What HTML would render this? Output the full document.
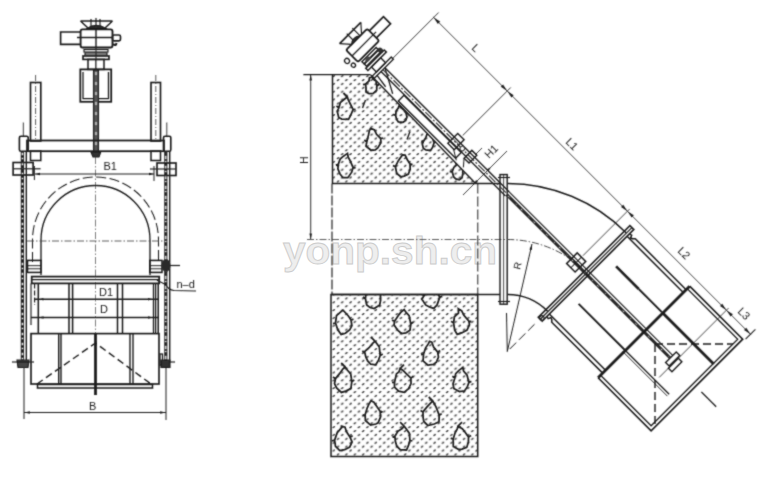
<!DOCTYPE html>
<html><head><meta charset="utf-8"><style>
html,body{margin:0;padding:0;background:#fff;}
svg{display:block;font-family:"Liberation Sans",sans-serif;}
</style></head><body>
<svg width="775" height="479" viewBox="0 0 775 479">
<defs>
<pattern id="hatch" width="8.4" height="7.8" patternUnits="userSpaceOnUse">
<path d="M1.3,2.5 L2.7,1.6 M5.5,6.4 L6.9,5.5" stroke="#333" stroke-width="1.35" stroke-linecap="round"/>
</pattern>
<clipPath id="cUpper"><path d="M332.5,75 L370.7,75 L475.6,183.5 L332.5,183.5 Z"/></clipPath>
<clipPath id="cLower"><rect x="331" y="294.5" width="146.7" height="162"/></clipPath>
<filter id="soft" x="0" y="0" width="775" height="479" filterUnits="userSpaceOnUse"><feConvolveMatrix order="3" kernelMatrix="0.03 0.1 0.03 0.1 0.48 0.1 0.03 0.1 0.03" divisor="1" preserveAlpha="false" edgeMode="none"/></filter>
</defs>
<rect width="775" height="479" fill="#fff"/>
<text x="283" y="263.5" font-size="38" font-weight="bold" fill="#eeeeee" stroke="#cccccc" stroke-width="0.9" textLength="214" lengthAdjust="spacingAndGlyphs" style="font-family:'Liberation Sans',sans-serif">yonp.sh.cn</text>
<g filter="url(#soft)">
<line x1="95.5" y1="60.0" x2="95.5" y2="70.0" stroke="#555" stroke-width="0.77" />
<line x1="95.5" y1="157.0" x2="95.5" y2="333.0" stroke="#555" stroke-width="0.77" stroke-dasharray="7,2,1.5,2" />
<path d="M80.5,21 L112.5,21 M80.5,21 L88,28 M112.5,21 L105,28" stroke="#1c1c1c" stroke-width="1.53" fill="none" />
<path d="M91,19 L91,27 M96,18 L96,27 M100,19 L100,27" stroke="#1c1c1c" stroke-width="1.18" fill="none" />
<path d="M87,28.5 Q96,22 106,28.5 Z" stroke="#1c1c1c" stroke-width="1.18" fill="#2a2a2a" />
<rect x="80.6" y="29.4" width="31.9" height="18.1" stroke="#1c1c1c" stroke-width="1.89" fill="none" rx="2" />
<line x1="77.0" y1="37.5" x2="112.5" y2="37.5" stroke="#1c1c1c" stroke-width="1.42" />
<line x1="96.0" y1="29.4" x2="96.0" y2="47.5" stroke="#1c1c1c" stroke-width="1.42" />
<path d="M80.6,32 L60.6,32 L60.6,44.4 L80.6,44.4" stroke="#1c1c1c" stroke-width="1.65" fill="none" />
<rect x="112.5" y="35.0" width="8.0" height="5.8" stroke="#1c1c1c" stroke-width="1.65" fill="none" rx="1.5" />
<path d="M113,44 q3,2.5 3.5,-1" stroke="#1c1c1c" stroke-width="2.12" fill="none" />
<rect x="84.0" y="49.5" width="24.0" height="2.5" stroke="#1c1c1c" stroke-width="1.18" fill="none" rx="0" />
<rect x="85.0" y="53.0" width="22.0" height="2.0" stroke="#1c1c1c" stroke-width="1.18" fill="none" rx="0" />
<rect x="83.0" y="56.0" width="26.0" height="3.4" stroke="#1c1c1c" stroke-width="1.65" fill="none" rx="0" />
<rect x="88.0" y="59.4" width="16.0" height="10.0" stroke="#1c1c1c" stroke-width="1.53" fill="none" rx="0" />
<line x1="96.0" y1="47.5" x2="96.0" y2="69.4" stroke="#1c1c1c" stroke-width="0.99" />
<rect x="80.3" y="69.4" width="30.9" height="32.4" stroke="#1c1c1c" stroke-width="1.77" fill="none" rx="0" />
<path d="M83,72 L83,98.6 L108.5,98.6 L108.5,72" stroke="#1c1c1c" stroke-width="1.3" fill="none" />
<rect x="93.6" y="70.0" width="4.8" height="83.0" stroke="#1c1c1c" stroke-width="1.3" fill="#555" rx="0" />
<line x1="96.0" y1="72.0" x2="96.0" y2="150.0" stroke="#ccc" stroke-width="1.42" stroke-dasharray="3,7" />
<path d="M91,152 L100.7,152 L99,157 L93,157 Z" stroke="#1c1c1c" stroke-width="1.18" fill="#333" />
<rect x="30.5" y="82.5" width="10.3" height="58.5" stroke="#1c1c1c" stroke-width="1.65" fill="none" rx="0" />
<line x1="35.6" y1="75.0" x2="35.6" y2="141.0" stroke="#444" stroke-width="0.88" stroke-dasharray="6,2,1,2" />
<rect x="30.5" y="151.0" width="10.3" height="9.5" stroke="#1c1c1c" stroke-width="1.53" fill="none" rx="0" />
<rect x="151.0" y="82.5" width="9.5" height="58.5" stroke="#1c1c1c" stroke-width="1.65" fill="none" rx="0" />
<line x1="155.8" y1="75.0" x2="155.8" y2="141.0" stroke="#444" stroke-width="0.88" stroke-dasharray="6,2,1,2" />
<rect x="151.0" y="151.0" width="9.5" height="9.5" stroke="#1c1c1c" stroke-width="1.53" fill="none" rx="0" />
<rect x="27.0" y="140.5" width="137.0" height="10.7" stroke="#1c1c1c" stroke-width="1.77" fill="none" rx="0" />
<line x1="23.3" y1="122.5" x2="23.3" y2="136.0" stroke="#1c1c1c" stroke-width="0.88" />
<line x1="166.8" y1="122.5" x2="166.8" y2="136.0" stroke="#1c1c1c" stroke-width="0.88" />
<rect x="19.4" y="136.2" width="8.8" height="15.0" stroke="#1c1c1c" stroke-width="1.65" fill="none" rx="1.5" />
<rect x="163.5" y="136.2" width="7.3" height="15.0" stroke="#1c1c1c" stroke-width="1.65" fill="none" rx="1.5" />
<line x1="22.4" y1="151" x2="22.4" y2="361" stroke="#262626" stroke-width="3.3"/>
<line x1="22.4" y1="153" x2="22.4" y2="361" stroke="#ddd" stroke-width="1.3" stroke-dasharray="2,3,1,4"/>
<line x1="26.3" y1="151.0" x2="26.3" y2="361.0" stroke="#1c1c1c" stroke-width="1.42" />
<line x1="165.8" y1="151" x2="165.8" y2="361" stroke="#262626" stroke-width="3.3"/>
<line x1="165.8" y1="156" x2="165.8" y2="361" stroke="#ddd" stroke-width="1.3" stroke-dasharray="3,2,1,4"/>
<line x1="169.7" y1="151.0" x2="169.7" y2="361.0" stroke="#1c1c1c" stroke-width="1.42" />
<rect x="13.1" y="162.5" width="20.0" height="12.5" stroke="#1c1c1c" stroke-width="1.65" fill="none" rx="0" />
<line x1="13.1" y1="168.8" x2="40.6" y2="168.8" stroke="#1c1c1c" stroke-width="1.18" />
<rect x="157.0" y="163.0" width="19.0" height="12.5" stroke="#1c1c1c" stroke-width="1.65" fill="none" rx="0" />
<line x1="150.0" y1="169.0" x2="176.0" y2="169.0" stroke="#1c1c1c" stroke-width="1.18" />
<line x1="34.4" y1="166.0" x2="34.4" y2="180.0" stroke="#1c1c1c" stroke-width="0.99" />
<line x1="154.0" y1="166.0" x2="154.0" y2="181.0" stroke="#1c1c1c" stroke-width="0.99" />
<line x1="35.0" y1="174.0" x2="154.0" y2="174.0" stroke="#1c1c1c" stroke-width="0.99" />
<path d="M35.0,174.0 L40.0,172.7 L40.0,175.3Z" fill="#1c1c1c"/>
<path d="M154.0,174.0 L149.0,175.3 L149.0,172.7Z" fill="#1c1c1c"/>
<text x="103.5" y="170" font-size="11" text-anchor="start" fill="#1c1c1c" >B1</text>
<path d="M32.5,262 L32.5,240 A63,63 0 0 1 158.5,240 L158.5,262" stroke="#1c1c1c" stroke-width="1.04" fill="none" stroke-dasharray="10,3.5" />
<path d="M41,275 L41,240 A54.5,54.5 0 0 1 150,240 L150,275" stroke="#1c1c1c" stroke-width="1.36" fill="none" />
<line x1="27.0" y1="241.0" x2="163.0" y2="241.0" stroke="#444" stroke-width="0.88" stroke-dasharray="7,2,1.5,2" />
<rect x="27.5" y="260.4" width="13.5" height="12.0" stroke="#1c1c1c" stroke-width="1.53" fill="none" rx="0" />
<line x1="27.5" y1="265.7" x2="41.0" y2="265.7" stroke="#1c1c1c" stroke-width="0.99" />
<line x1="27.5" y1="268.8" x2="41.0" y2="268.8" stroke="#1c1c1c" stroke-width="0.99" />
<rect x="149.8" y="260.4" width="12.2" height="12.0" stroke="#1c1c1c" stroke-width="1.53" fill="none" rx="0" />
<line x1="149.8" y1="265.7" x2="162.0" y2="265.7" stroke="#1c1c1c" stroke-width="0.99" />
<line x1="149.8" y1="268.8" x2="162.0" y2="268.8" stroke="#1c1c1c" stroke-width="0.99" />
<ellipse cx="166" cy="265.5" rx="4.5" ry="6.5" fill="#2a2a2a"/>
<line x1="170.0" y1="265.5" x2="180.0" y2="265.5" stroke="#1c1c1c" stroke-width="1.18" />
<rect x="31.7" y="276.6" width="127.5" height="6.8" stroke="#1c1c1c" stroke-width="1.77" fill="none" rx="0" />
<line x1="31.7" y1="279.7" x2="159.2" y2="279.7" stroke="#1c1c1c" stroke-width="1.18" />
<line x1="31.0" y1="283.4" x2="31.0" y2="325.0" stroke="#1c1c1c" stroke-width="1.18" />
<line x1="34.6" y1="283.4" x2="34.6" y2="305.0" stroke="#1c1c1c" stroke-width="1.18" stroke-dasharray="5,2" />
<line x1="38.3" y1="283.4" x2="38.3" y2="333.6" stroke="#1c1c1c" stroke-width="1.53" />
<line x1="153.5" y1="283.4" x2="153.5" y2="333.6" stroke="#1c1c1c" stroke-width="1.3" />
<line x1="155.6" y1="283.4" x2="155.6" y2="333.6" stroke="#1c1c1c" stroke-width="1.3" />
<line x1="158.2" y1="283.4" x2="158.2" y2="333.6" stroke="#1c1c1c" stroke-width="1.53" />
<line x1="69.0" y1="283.4" x2="69.0" y2="333.6" stroke="#1c1c1c" stroke-width="1.53" />
<line x1="72.6" y1="283.4" x2="72.6" y2="333.6" stroke="#1c1c1c" stroke-width="1.53" />
<line x1="117.5" y1="283.4" x2="117.5" y2="333.6" stroke="#1c1c1c" stroke-width="1.53" />
<line x1="122.5" y1="283.4" x2="122.5" y2="333.6" stroke="#1c1c1c" stroke-width="1.53" />
<line x1="34.6" y1="299.2" x2="158.2" y2="299.2" stroke="#1c1c1c" stroke-width="1.53" />
<line x1="31.0" y1="317.5" x2="158.2" y2="317.5" stroke="#1c1c1c" stroke-width="1.53" />
<path d="M39.0,299.2 L43.5,297.9 L43.5,300.5Z" fill="#1c1c1c"/>
<path d="M39.0,317.5 L43.5,316.2 L43.5,318.8Z" fill="#1c1c1c"/>
<path d="M152.5,299.2 L148.0,300.5 L148.0,297.9Z" fill="#1c1c1c"/>
<path d="M152.5,317.5 L148.0,318.8 L148.0,316.2Z" fill="#1c1c1c"/>
<text x="99" y="296" font-size="11" text-anchor="start" fill="#1c1c1c" >D1</text>
<text x="100" y="313" font-size="11" text-anchor="start" fill="#1c1c1c" >D</text>
<path d="M157,280.3 L165.5,284.4 Q168,289.5 174,290.5 L196,291" stroke="#1c1c1c" stroke-width="1.18" fill="none" />
<text x="176.5" y="288" font-size="11" text-anchor="start" fill="#1c1c1c" >n–d</text>
<rect x="31.0" y="333.6" width="128.0" height="50.4" stroke="#1c1c1c" stroke-width="1.65" fill="none" rx="0" />
<line x1="58.7" y1="333.6" x2="58.7" y2="384.0" stroke="#1c1c1c" stroke-width="1.42" />
<line x1="61.0" y1="333.6" x2="61.0" y2="384.0" stroke="#1c1c1c" stroke-width="1.42" />
<line x1="130.0" y1="333.6" x2="130.0" y2="384.0" stroke="#1c1c1c" stroke-width="1.42" />
<line x1="133.0" y1="333.6" x2="133.0" y2="384.0" stroke="#1c1c1c" stroke-width="1.42" />
<rect x="37.5" y="384.5" width="115.0" height="3.5" stroke="#1c1c1c" stroke-width="1.53" fill="none" rx="0" />
<line x1="95.5" y1="333.6" x2="95.5" y2="395.0" stroke="#1c1c1c" stroke-width="2.83" />
<path d="M37,384 L95.5,343 L151,384" stroke="#1c1c1c" stroke-width="1.42" fill="none" stroke-dasharray="7,4" />
<path d="M17,360 L29,360 L28,367.5 L18,367.5 Z" stroke="#1c1c1c" stroke-width="1.18" fill="#444" />
<line x1="12.0" y1="362.0" x2="34.0" y2="362.0" stroke="#1c1c1c" stroke-width="1.18" />
<rect x="160.0" y="354.0" width="2.5" height="11.0" stroke="#1c1c1c" stroke-width="1.3" fill="none" rx="0" />
<path d="M161,360 L170,360 L170,367.5 L161,367.5 Z" stroke="#1c1c1c" stroke-width="1.18" fill="#333" />
<line x1="170.0" y1="362.0" x2="175.0" y2="362.0" stroke="#1c1c1c" stroke-width="1.18" />
<line x1="24.0" y1="367.0" x2="24.0" y2="419.0" stroke="#1c1c1c" stroke-width="0.99" />
<line x1="166.0" y1="367.0" x2="166.0" y2="420.0" stroke="#1c1c1c" stroke-width="0.99" />
<line x1="24.0" y1="412.5" x2="166.0" y2="412.5" stroke="#1c1c1c" stroke-width="0.99" />
<path d="M24.0,412.5 L30.0,411.2 L30.0,413.8Z" fill="#1c1c1c"/>
<path d="M166.0,412.5 L160.0,413.8 L160.0,411.2Z" fill="#1c1c1c"/>
<text x="89" y="409.5" font-size="11" text-anchor="start" fill="#1c1c1c" >B</text>
<path d="M332.5,75 L370.7,75 L475.6,183.5 L332.5,183.5 Z" fill="url(#hatch)" stroke="none"/>
<rect x="331" y="294.5" width="146.7" height="162" fill="url(#hatch)" stroke="none"/>
<path d="M303.4,74.6 L370.7,74.6" stroke="#1c1c1c" stroke-width="1.18" fill="none" />
<path d="M332.5,74.6 L332.5,183.5" stroke="#1c1c1c" stroke-width="1.53" fill="none" />
<path d="M370.7,75 L475.6,183.5" stroke="#1c1c1c" stroke-width="1.42" fill="none" />
<line x1="332.0" y1="183.5" x2="500.0" y2="183.5" stroke="#1c1c1c" stroke-width="1.42" />
<line x1="331.5" y1="294.5" x2="500.0" y2="294.5" stroke="#1c1c1c" stroke-width="1.42" />
<line x1="332.0" y1="183.5" x2="332.0" y2="294.5" stroke="#1c1c1c" stroke-width="1.18" stroke-dasharray="10,2" />
<line x1="477.8" y1="183.5" x2="477.8" y2="294.5" stroke="#1c1c1c" stroke-width="0.99" stroke-dasharray="10,3" />
<rect x="331.0" y="294.5" width="146.7" height="162.0" stroke="#1c1c1c" stroke-width="1.53" fill="none" rx="0" />
<line x1="310.7" y1="74.6" x2="310.7" y2="239.5" stroke="#1c1c1c" stroke-width="0.88" />
<path d="M310.7,74.6 L312.0,80.6 L309.4,80.6Z" fill="#1c1c1c"/>
<path d="M310.7,239.5 L309.4,233.5 L312.0,233.5Z" fill="#1c1c1c"/>
<text x="307.5" y="160" font-size="10" text-anchor="middle" fill="#1c1c1c" transform="rotate(-90 307.5 160)" >H</text>
<line x1="307.0" y1="239.5" x2="507.0" y2="239.5" stroke="#444" stroke-width="0.88" stroke-dasharray="7,2,1.5,2" />
<rect x="500.0" y="174.6" width="7.2" height="129.6" stroke="#1c1c1c" stroke-width="1.42" fill="none" rx="0" />
<line x1="503.6" y1="174.6" x2="503.6" y2="304.2" stroke="#1c1c1c" stroke-width="0.77" />
<line x1="498.0" y1="177.5" x2="510.0" y2="177.5" stroke="#1c1c1c" stroke-width="1.18" />
<line x1="498.0" y1="301.5" x2="510.0" y2="301.5" stroke="#1c1c1c" stroke-width="1.18" />
<path d="M507.3,183.5 A168,168 0 0 1 626.1,232.7" stroke="#1c1c1c" stroke-width="1.53" fill="none" />
<path d="M507.3,294.5 A57,57 0 0 1 547.6,311.2" stroke="#1c1c1c" stroke-width="1.53" fill="none" />
<path d="M507.3,239.5 A112,112 0 0 1 586.5,272.3" stroke="#444" stroke-width="0.99" fill="none" stroke-dasharray="7,2,1.5,2" />
<line x1="507.3" y1="351.5" x2="532.0" y2="244.0" stroke="#1c1c1c" stroke-width="0.99" />
<path d="M532.0,244.0 L531.9,250.1 L529.4,249.6Z" fill="#1c1c1c"/>
<text x="520" y="270" font-size="10" text-anchor="start" fill="#1c1c1c" transform="rotate(-76 520 270)" >R</text>
<line x1="506.5" y1="313.0" x2="507.3" y2="351.5" stroke="#1c1c1c" stroke-width="0.99" />
<line x1="509.8" y1="349.0" x2="535.6" y2="323.2" stroke="#1c1c1c" stroke-width="0.99" stroke-dasharray="9,4" />
<g transform="translate(585 272) rotate(45)"><rect x="-326" y="-18" width="17" height="30" stroke="#1c1c1c" stroke-width="1.77" fill="none" rx="2"/><line x1="-317.5" y1="-22" x2="-317.5" y2="12" stroke="#1c1c1c" stroke-width="1.18"/><path d="M-323,-18 L-323,-38 L-313,-38 L-313,-18" stroke="#1c1c1c" stroke-width="1.65" fill="none"/><line x1="-335" y1="-18" x2="-335" y2="12" stroke="#1c1c1c" stroke-width="1.53"/><path d="M-335,-18 L-326,-10 M-335,12 L-326,4 M-337,-8 L-326,-8 M-337,0 L-326,0" stroke="#1c1c1c" stroke-width="1.18" fill="none"/><path d="M-326,-8 Q-331,-2 -326,4 Z" stroke="#1c1c1c" stroke-width="1.18" fill="#333"/><ellipse cx="-317.5" cy="19" rx="2.6" ry="2.4" stroke="#1c1c1c" stroke-width="1.3" fill="none"/><ellipse cx="-310" cy="17.5" rx="2.2" ry="2" stroke="#1c1c1c" stroke-width="1.3" fill="none"/><rect x="-306.5" y="-11" width="3.0" height="20" stroke="#1c1c1c" stroke-width="1.42" fill="none" rx="0"/><rect x="-303" y="-11" width="3" height="20" stroke="#1c1c1c" stroke-width="1.42" fill="none" rx="0"/><ellipse cx="-301.5" cy="-12" rx="3" ry="2.5" fill="#333"/><ellipse cx="-304" cy="3" rx="2" ry="3" fill="#444"/><rect x="-299" y="-15" width="3" height="26" stroke="#1c1c1c" stroke-width="1.53" fill="none" rx="0"/><rect x="-296" y="-7" width="7" height="13" stroke="#1c1c1c" stroke-width="1.42" fill="none" rx="0"/><rect x="-289" y="-15" width="3" height="27" stroke="#1c1c1c" stroke-width="1.3" fill="none" rx="0"/><path d="M-286,-3 L-262,10 M-286,8 L-272,10" stroke="#1c1c1c" stroke-width="1.3" fill="none"/><line x1="-286" y1="-3" x2="-110" y2="-3" stroke="#1c1c1c" stroke-width="1.36"/><line x1="-286" y1="2.5" x2="-110" y2="2.5" stroke="#1c1c1c" stroke-width="1.36"/><line x1="-286" y1="-0.2" x2="-110" y2="-0.2" stroke="#333" stroke-width="1.18" stroke-dasharray="9,2,2,2"/><line x1="-110" y1="-3" x2="121" y2="-3" stroke="#1c1c1c" stroke-width="1.18"/><line x1="-110" y1="0.6" x2="121" y2="0.6" stroke="#262626" stroke-width="3.07"/><line x1="-108" y1="0.6" x2="121" y2="0.6" stroke="#bbb" stroke-width="0.88" stroke-dasharray="2,9,1,6"/><rect x="-253" y="3" width="81" height="8" stroke="#1c1c1c" stroke-width="1.42" fill="none" rx="0"/><rect x="-188" y="-8" width="9" height="14" stroke="#1c1c1c" stroke-width="1.42" fill="none" rx="0"/><line x1="-188" y1="-1" x2="-179" y2="-1" stroke="#1c1c1c" stroke-width="0.88"/><rect x="-166" y="-6" width="7" height="11" stroke="#1c1c1c" stroke-width="1.42" fill="none" rx="0"/><circle cx="-174" cy="-0.5" r="2.2" stroke="#1c1c1c" stroke-width="1.1" fill="#fff"/><path d="M-180,6 L-170,12 M-166,5 L-160,12" stroke="#1c1c1c" stroke-width="0.99" fill="none"/><rect x="-19" y="-8" width="12" height="15" stroke="#1c1c1c" stroke-width="1.53" fill="none" rx="0"/><line x1="-19" y1="-0.5" x2="-7" y2="-0.5" stroke="#1c1c1c" stroke-width="0.99"/><line x1="-13" y1="-8" x2="-13" y2="7" stroke="#1c1c1c" stroke-width="0.99"/><rect x="-1" y="-64.5" width="5.5" height="129.5" stroke="#1c1c1c" stroke-width="1.65" fill="none" rx="0"/><line x1="1.8" y1="-64.5" x2="1.8" y2="65" stroke="#1c1c1c" stroke-width="1.18"/><circle cx="2" cy="63" r="2.2" stroke="#1c1c1c" stroke-width="1.1" fill="none"/><path d="M4.5,-58.5 L7,-59 L8,-56.5 L10,-57 L12,-59 L84,-59 M4.5,-55 L84,-55" stroke="#1c1c1c" stroke-width="1.53" fill="none"/><path d="M4.5,58.5 L7,59 L8,56.5 L10,57 L12,59 L84,59 M4.5,55 L84,55" stroke="#1c1c1c" stroke-width="1.53" fill="none"/><path d="M84,-64 L159,-64 L159,65.5 L84,65.5" stroke="#1c1c1c" stroke-width="1.65" fill="none"/><path d="M84,-60.5 L155.5,-60.5 L155.5,62 L84,62" stroke="#1c1c1c" stroke-width="1.3" fill="none"/><line x1="84" y1="-64" x2="84" y2="65.5" stroke="#1c1c1c" stroke-width="2.83"/><line x1="18" y1="-26" x2="50" y2="-26" stroke="#1c1c1c" stroke-width="2.6"/><line x1="50" y1="-26" x2="83" y2="-26" stroke="#1c1c1c" stroke-width="1.89"/><line x1="84" y1="-26" x2="156" y2="-26" stroke="#1c1c1c" stroke-width="2.83"/><line x1="18" y1="27" x2="83" y2="27" stroke="#1c1c1c" stroke-width="1.89"/><line x1="83" y1="27" x2="146" y2="27" stroke="#1c1c1c" stroke-width="1.3"/><line x1="83" y1="29.5" x2="146" y2="29.5" stroke="#1c1c1c" stroke-width="0.88"/><rect x="121" y="-8" width="5" height="15" stroke="#1c1c1c" stroke-width="1.42" fill="none" rx="0"/><rect x="127" y="-5" width="5" height="14" stroke="#1c1c1c" stroke-width="1.42" fill="none" rx="0"/><line x1="127" y1="22" x2="127" y2="-76" stroke="#1c1c1c" stroke-width="0.77"/><line x1="-13" y1="-10" x2="-13" y2="-76" stroke="#1c1c1c" stroke-width="0.77"/><line x1="-183" y1="-10" x2="-183" y2="-78" stroke="#1c1c1c" stroke-width="0.77"/><line x1="-287" y1="-14" x2="-287" y2="-80" stroke="#1c1c1c" stroke-width="0.77"/><line x1="-288" y1="-73" x2="162" y2="-73" stroke="#333" stroke-width="0.88"/><path d="M-287,-73 L-279.5,-74.6 L-279.5,-71.4 Z" fill="#1c1c1c"/><path d="M-183,-73 L-190.5,-74.6 L-190.5,-71.4 Z" fill="#1c1c1c"/><path d="M-183,-73 L-175.5,-74.6 L-175.5,-71.4 Z" fill="#1c1c1c"/><path d="M-13,-73 L-20.5,-74.6 L-20.5,-71.4 Z" fill="#1c1c1c"/><path d="M-13,-73 L-5.5,-74.6 L-5.5,-71.4 Z" fill="#1c1c1c"/><path d="M127,-73 L119.5,-74.6 L119.5,-71.4 Z" fill="#1c1c1c"/><path d="M127,-73 L134.5,-74.6 L134.5,-71.4 Z" fill="#1c1c1c"/><path d="M161,-73 L153.5,-74.6 L153.5,-71.4 Z" fill="#1c1c1c"/><line x1="161" y1="-66" x2="161" y2="-80" stroke="#1c1c1c" stroke-width="0.99"/><line x1="167" y1="2.5" x2="188" y2="2.5" stroke="#1c1c1c" stroke-width="1.3"/></g>
<text x="471" y="48.5" font-size="11" text-anchor="start" fill="#1c1c1c" transform="rotate(45 471 48.5)" >L</text>
<text x="565" y="142.5" font-size="11" text-anchor="start" fill="#1c1c1c" transform="rotate(45 565 142.5)" >L1</text>
<text x="677" y="251.5" font-size="11" text-anchor="start" fill="#1c1c1c" transform="rotate(45 677 251.5)" >L2</text>
<text x="737" y="312" font-size="11" text-anchor="start" fill="#1c1c1c" transform="rotate(45 737 312)" >L3</text>
<text x="489" y="159" font-size="11" text-anchor="start" fill="#1c1c1c" transform="rotate(-45 489 159)" >H1</text>
<line x1="463.0" y1="195.0" x2="507.0" y2="151.0" stroke="#1c1c1c" stroke-width="0.88" />
<path d="M473.5,184.5 L476.1,180.0 L478.0,181.9Z" fill="#1c1c1c"/>
<path d="M491.0,167.0 L488.4,171.5 L486.5,169.6Z" fill="#1c1c1c"/>
<line x1="475.0" y1="155.0" x2="482.0" y2="148.0" stroke="#1c1c1c" stroke-width="0.88" />
<line x1="655.0" y1="344.0" x2="733.0" y2="344.0" stroke="#1c1c1c" stroke-width="1.42" stroke-dasharray="8,4" />
<line x1="655.0" y1="344.0" x2="655.0" y2="425.0" stroke="#1c1c1c" stroke-width="1.42" stroke-dasharray="8,4" />
<g clip-path="url(#cLower)">
<path d="M371.5,284.5 L373.5,285.5 L376.7,289.8 L380.4,294.6 L380.6,300.2 L379.7,305.0 L374.2,308.5 L370.0,307.5 L366.7,305.0 L365.4,298.8 L366.2,291.5 L370.7,287.4Z M380.4,294.6 l2.5,-0.6 M365.4,298.8 l-2.5,-1.7 M371.5,284.5 l4,-4" stroke="#1c1c1c" stroke-width="1.77" fill="none" />
<path d="M431.9,284.7 L430.4,285.5 L426.8,289.9 L424.2,295.6 L421.8,299.1 L425.6,304.9 L429.4,307.0 L433.7,308.4 L437.1,304.9 L439.8,297.1 L435.7,291.1 L434.9,286.8Z M424.2,295.6 l-2.5,-1.4 M439.8,297.1 l2.5,-0.7 M431.9,284.7 l-4,-4" stroke="#1c1c1c" stroke-width="1.77" fill="none" />
<path d="M342.7,310.4 L343.5,310.7 L348.4,316.0 L351.0,320.1 L351.9,325.7 L349.8,329.8 L345.4,333.3 L341.1,334.5 L337.7,329.6 L335.5,323.0 L336.5,315.6 L340.5,312.1Z M351.0,320.1 l2.5,-0.9 M335.5,323.0 l-2.5,0.7" stroke="#1c1c1c" stroke-width="1.77" fill="none" />
<path d="M404.1,309.6 L401.4,311.7 L399.0,314.6 L394.5,321.2 L394.1,325.0 L397.9,330.4 L401.5,333.5 L406.0,332.8 L410.0,330.2 L410.8,324.0 L409.1,315.6 L406.3,312.7Z M394.5,321.2 l-2.5,-1.1 M410.8,324.0 l2.5,-1.9" stroke="#1c1c1c" stroke-width="1.77" fill="none" />
<path d="M458.3,308.7 L461.7,310.8 L463.9,315.3 L468.9,321.1 L469.5,324.9 L467.0,330.1 L462.1,332.7 L457.2,334.4 L454.7,330.1 L453.6,322.9 L454.4,316.8 L458.5,313.2Z M468.9,321.1 l2.5,0.6 M453.6,322.9 l-2.5,-1.7" stroke="#1c1c1c" stroke-width="1.77" fill="none" />
<path d="M375.0,341.2 L372.4,343.6 L369.3,347.5 L364.6,351.6 L365.8,357.0 L367.7,360.9 L370.6,364.2 L375.8,364.8 L378.5,360.1 L380.2,355.5 L379.3,347.0 L376.4,343.0Z M364.6,351.6 l-2.5,-0.1 M380.2,355.5 l2.5,-1.6 M375.0,341.2 l-4,-4" stroke="#1c1c1c" stroke-width="1.77" fill="none" />
<path d="M429.5,341.3 L431.8,342.2 L433.6,347.0 L437.7,352.2 L438.5,357.2 L436.3,362.3 L433.4,364.5 L427.9,365.1 L423.1,360.8 L423.5,354.2 L425.5,348.1 L428.6,343.4Z M437.7,352.2 l2.5,-1.7 M423.5,354.2 l-2.5,0.4" stroke="#1c1c1c" stroke-width="1.77" fill="none" />
<path d="M345.2,367.0 L343.0,368.8 L339.7,373.4 L335.5,378.7 L334.5,383.6 L336.6,387.9 L341.4,392.4 L345.7,391.1 L350.9,388.6 L351.8,381.5 L350.7,373.8 L347.5,370.3Z M335.5,378.7 l-2.5,-1.6 M351.8,381.5 l2.5,-1.6 M345.2,367.0 l-4,-4" stroke="#1c1c1c" stroke-width="1.77" fill="none" />
<path d="M400.0,368.6 L402.8,370.1 L405.7,373.2 L410.9,378.1 L411.0,383.6 L408.6,388.7 L404.0,392.4 L398.7,391.2 L394.5,387.2 L394.5,382.5 L396.4,373.9 L399.1,371.7Z M410.9,378.1 l2.5,-1.8 M394.5,382.5 l-2.5,-0.1 M400.0,368.6 l4,-4" stroke="#1c1c1c" stroke-width="1.77" fill="none" />
<path d="M462.8,367.4 L459.0,370.4 L455.7,373.7 L454.9,377.9 L453.0,383.9 L453.8,388.5 L459.4,391.6 L464.4,391.0 L467.3,386.9 L468.9,382.5 L467.1,375.2 L463.6,371.2Z M454.9,377.9 l-2.5,-1.7 M468.9,382.5 l2.5,-1.1" stroke="#1c1c1c" stroke-width="1.77" fill="none" />
<path d="M370.9,400.8 L373.9,402.3 L377.5,407.5 L380.1,411.2 L380.7,416.6 L378.1,422.8 L375.9,424.0 L370.6,425.1 L365.4,420.5 L365.1,414.8 L367.1,408.2 L368.8,404.4Z M380.1,411.2 l2.5,0.9 M365.1,414.8 l-2.5,0.9" stroke="#1c1c1c" stroke-width="1.77" fill="none" />
<path d="M432.7,401.0 L430.8,402.8 L426.8,407.1 L423.0,411.9 L423.1,417.5 L423.8,421.5 L427.8,425.5 L434.3,424.0 L439.0,421.8 L439.2,415.1 L436.0,406.9 L433.9,403.0Z M423.0,411.9 l-2.5,-1.4 M439.2,415.1 l2.5,-1.3 M432.7,401.0 l-4,-4" stroke="#1c1c1c" stroke-width="1.77" fill="none" />
<path d="M341.5,426.1 L345.0,427.1 L346.4,431.5 L350.1,437.4 L352.1,442.0 L349.7,447.1 L344.7,449.7 L339.8,450.6 L335.5,446.4 L334.6,440.2 L337.2,432.6 L341.4,427.8Z M350.1,437.4 l2.5,-1.8 M334.6,440.2 l-2.5,0.7" stroke="#1c1c1c" stroke-width="1.77" fill="none" />
<path d="M404.1,426.2 L402.1,428.5 L397.9,431.3 L394.9,436.3 L395.3,441.1 L396.8,446.2 L400.2,449.7 L406.5,450.0 L408.5,445.4 L409.9,440.5 L409.4,433.4 L406.5,429.3Z M394.9,436.3 l-2.5,0.8 M409.9,440.5 l2.5,0.4 M404.1,426.2 l-4,-4" stroke="#1c1c1c" stroke-width="1.77" fill="none" />
<path d="M458.0,426.2 L462.3,428.7 L464.4,431.3 L468.5,437.1 L468.4,442.2 L466.7,447.4 L462.0,449.2 L458.9,449.5 L453.3,446.4 L453.2,439.1 L455.0,433.1 L457.1,429.1Z M468.5,437.1 l2.5,-1.6 M453.2,439.1 l-2.5,-1.0 M458.0,426.2 l4,-4" stroke="#1c1c1c" stroke-width="1.77" fill="none" />
</g><g clip-path="url(#cUpper)">
<path d="M347.4,97.0 L344.3,99.3 L340.3,102.6 L338.9,107.8 L337.2,111.2 L338.7,117.5 L341.8,119.1 L348.5,119.3 L350.6,115.3 L353.1,109.6 L350.1,103.5 L348.1,99.4Z M338.9,107.8 l-2.5,-1.8 M353.1,109.6 l2.5,-0.3 M347.4,97.0 l-4,-4" stroke="#1c1c1c" stroke-width="1.77" fill="none" />
<path d="M370.6,128.4 L374.6,129.9 L376.5,134.3 L380.7,138.5 L380.9,142.7 L377.9,147.7 L375.4,150.0 L371.1,150.3 L366.0,146.1 L366.8,141.8 L368.5,134.9 L369.4,130.5Z M380.7,138.5 l2.5,-0.5 M366.8,141.8 l-2.5,-1.7" stroke="#1c1c1c" stroke-width="1.77" fill="none" />
<path d="M347.5,153.4 L342.6,156.9 L340.1,159.1 L338.3,164.3 L337.9,168.8 L339.9,173.7 L342.9,177.7 L347.9,177.7 L351.7,172.2 L353.1,167.6 L349.9,160.2 L348.2,157.1Z M338.3,164.3 l-2.5,0.8 M353.1,167.6 l2.5,0.3" stroke="#1c1c1c" stroke-width="1.77" fill="none" />
<path d="M402.4,155.0 L405.1,155.2 L407.3,159.7 L410.0,163.8 L410.2,169.2 L408.4,174.0 L404.1,176.1 L400.9,176.8 L396.7,173.5 L395.4,166.6 L398.2,160.9 L400.8,157.2Z M410.0,163.8 l2.5,0.9 M395.4,166.6 l-2.5,-0.9" stroke="#1c1c1c" stroke-width="1.77" fill="none" />
<path d="M372.3,77.1 L369.5,77.7 L369.0,81.0 L365.5,84.1 L366.0,87.7 L366.0,91.9 L369.0,93.6 L373.3,93.3 L376.7,90.1 L376.8,85.9 L376.0,81.0 L373.1,79.2Z M365.5,84.1 l-2.5,0.6 M376.8,85.9 l2.5,-1.7" stroke="#1c1c1c" stroke-width="1.77" fill="none" />
<path d="M399.4,105.2 L401.1,107.6 L403.9,110.1 L406.0,113.1 L407.0,116.9 L405.7,120.5 L403.0,122.3 L398.3,121.9 L396.5,119.1 L395.7,115.6 L396.1,110.9 L398.1,108.2Z M406.0,113.1 l2.5,0.5 M395.7,115.6 l-2.5,-1.4" stroke="#1c1c1c" stroke-width="1.77" fill="none" />
<path d="M429.6,132.9 L426.9,134.6 L425.6,138.0 L423.8,140.7 L422.3,144.1 L423.3,148.3 L425.8,150.0 L430.4,150.5 L432.4,147.7 L434.1,142.7 L432.7,138.8 L429.8,135.2Z M423.8,140.7 l-2.5,0.9 M434.1,142.7 l2.5,-1.0 M429.6,132.9 l-4,-4" stroke="#1c1c1c" stroke-width="1.77" fill="none" />
<path d="M455.8,162.9 L458.1,163.9 L461.1,167.2 L462.8,170.3 L462.8,173.7 L462.0,177.8 L459.5,179.8 L455.8,178.9 L453.7,177.0 L452.2,171.8 L453.8,167.5 L456.4,164.8Z M462.8,170.3 l2.5,-0.5 M452.2,171.8 l-2.5,-0.3 M455.8,162.9 l4,-4" stroke="#1c1c1c" stroke-width="1.77" fill="none" />
<path d="M348.3,414.8 L351.3,406.8" stroke="#1c1c1c" stroke-width="1.42" fill="none" />
<path d="M406.5,414.8 L409.5,406.8" stroke="#1c1c1c" stroke-width="1.42" fill="none" />
<path d="M464.5,356.7 L467.5,348.7" stroke="#1c1c1c" stroke-width="1.42" fill="none" />
<path d="M407.0,139.5 L410.0,131.5" stroke="#1c1c1c" stroke-width="1.42" fill="none" />
<path d="M362.5,108 L365.5,100" stroke="#1c1c1c" stroke-width="1.42" fill="none" />
</g>
</g>
</svg>
</body></html>
